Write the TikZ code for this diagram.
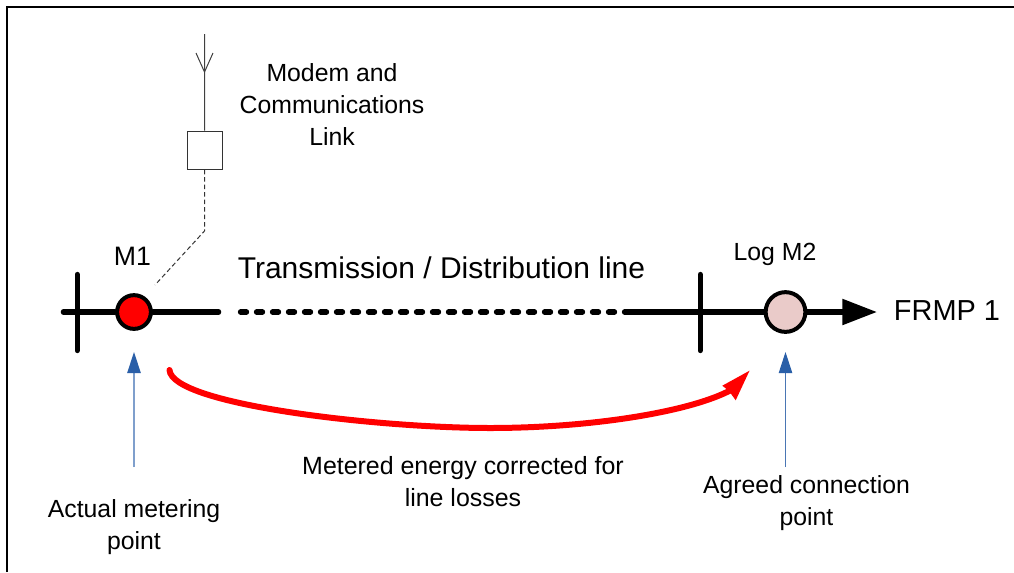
\documentclass[tikz,border=0pt]{standalone}
\usepackage{fontspec}
\setmainfont{Liberation Sans}
\usetikzlibrary{arrows.meta}
\definecolor{bluearr}{HTML}{2A5FA8}
\definecolor{bluelineA}{HTML}{7F9FCC}
\definecolor{bluelineB}{HTML}{4A76B4}
\definecolor{pinkfill}{HTML}{EACBC9}
\tikzset{
  x=0.75pt,y=-0.75pt,
  lab/.style={align=center,inner sep=0pt,font=\fontsize{18.6pt}{24pt}\selectfont},
  labbig/.style={align=center,inner sep=0pt,font=\fontsize{22.5pt}{24pt}\selectfont},
  thick line/.style={line width=4pt,line cap=round},
  meter/.style={circle,draw=black,line width=3pt,inner sep=0pt},
  pointer/.style={line width=1.1pt,-{Triangle[length=15.75pt,width=10pt,fill=bluearr,color=bluearr]}},
  thin line/.style={line width=0.75pt,draw=black!75},
  thin dash/.style={line width=0.75pt,draw=black!80,dash pattern=on 3.4pt off 2.2pt},
}
\begin{document}
\begin{tikzpicture}
\useasboundingbox (0,0) rectangle (1014,572);
\fill[white] (0,0) rectangle (1014,572);
% frame
\coordinate (fbl) at (7,572);
\coordinate (ftl) at (7,7);
\coordinate (ftr) at (1014,7);
\draw[line width=1.5pt,black] (fbl) -- (ftl) -- (ftr);

% main line
\coordinate (l0) at (63.4,312);
\coordinate (l1) at (218.6,312);
\coordinate (l2) at (240.5,312);
\coordinate (l3) at (630,312);
\coordinate (tip) at (877,312);
\node[meter,fill=red,minimum size=25.3pt] (m1) at (134,312) {};
\node[meter,fill=pinkfill,minimum size=29.8pt] (m2) at (785.5,312) {};
\draw[thick line] (l0) -- (m1);
\draw[thick line] (m1) -- (l1);
\draw[line width=4pt,line cap=round,dash pattern=on 4.5pt off 7.5pt] (l2) -- (l3);
\draw[thick line] (l3) -- (m2);
\draw[line width=4pt,-{Triangle[length=26pt,width=18.75pt,fill=black]}] (m2) -- (tip);

% bars
\coordinate (b1t) at (77.3,274.5);
\coordinate (b1b) at (77.3,350.5);
\coordinate (b2t) at (700.3,274.5);
\coordinate (b2b) at (700.3,350.5);
\draw[thick line] (b1t) -- (b1b);
\draw[thick line] (b2t) -- (b2b);

% antenna
\node[draw=black!80,fill=white,line width=0.9pt,minimum width=26.1pt,minimum height=28.4pt,inner sep=0pt] (modem) at (204.7,150.2) {};
\coordinate (a0) at (204.5,34);
\coordinate (a1) at (204.5,72);
\coordinate (w1) at (196,53);
\coordinate (w2) at (213,53);
\coordinate (bend) at (204.5,231);
\coordinate (dend) at (155,285);
\draw[thin line] (a0) -- (modem.north);
\draw[thin line] (w1) -- (a1) -- (w2);
\draw[thin dash] (modem.south) -- (bend) -- (dend);

% pointers
\coordinate (p1s) at (134,467);
\coordinate (p1e) at (134,352);
\coordinate (p2s) at (785.5,467);
\coordinate (p2e) at (785.5,352);
\draw[pointer,draw=bluelineA] (p1s) -- (p1e);
\draw[pointer,draw=bluelineB,line width=0.8pt] (p2s) -- (p2e);

% red curve
\coordinate (r0) at (169.5,370);
\coordinate (r1) at (749.5,370.7);
\draw[red,line width=4.5pt,line cap=round] (r0) .. controls (172,405) and (380,428) .. (490,428)
   .. controls (590,428) and (690,412) .. (731,390);
\fill[red] (r1) -- (735.7,400.3) -- (729,391) -- (722.3,385.7) -- cycle;

% labels
\node[lab] (tm) at (332,105) {Modem and\\Communications\\Link};
\node[inner sep=0pt,font=\fontsize{20pt}{24pt}\selectfont] (tm1) at (132.5,256) {M1};
\node[labbig] (tt) at (441.5,268) {Transmission / Distribution line};
\node[lab] (tl) at (775,254) {Log M2};
\node[inner sep=0pt,font=\fontsize{21.7pt}{24pt}\selectfont] (tf) at (947,311) {FRMP 1};
\node[inner sep=0pt,align=center,font=\fontsize{18.7pt}{24pt}\selectfont] (te) at (463,482) {Metered energy corrected for\\line losses};
\node[lab] (ta) at (134,527) {Actual metering\\point};
\node[lab] (tc) at (806.5,503.5) {Agreed connection\\point};
\end{tikzpicture}
\end{document}
